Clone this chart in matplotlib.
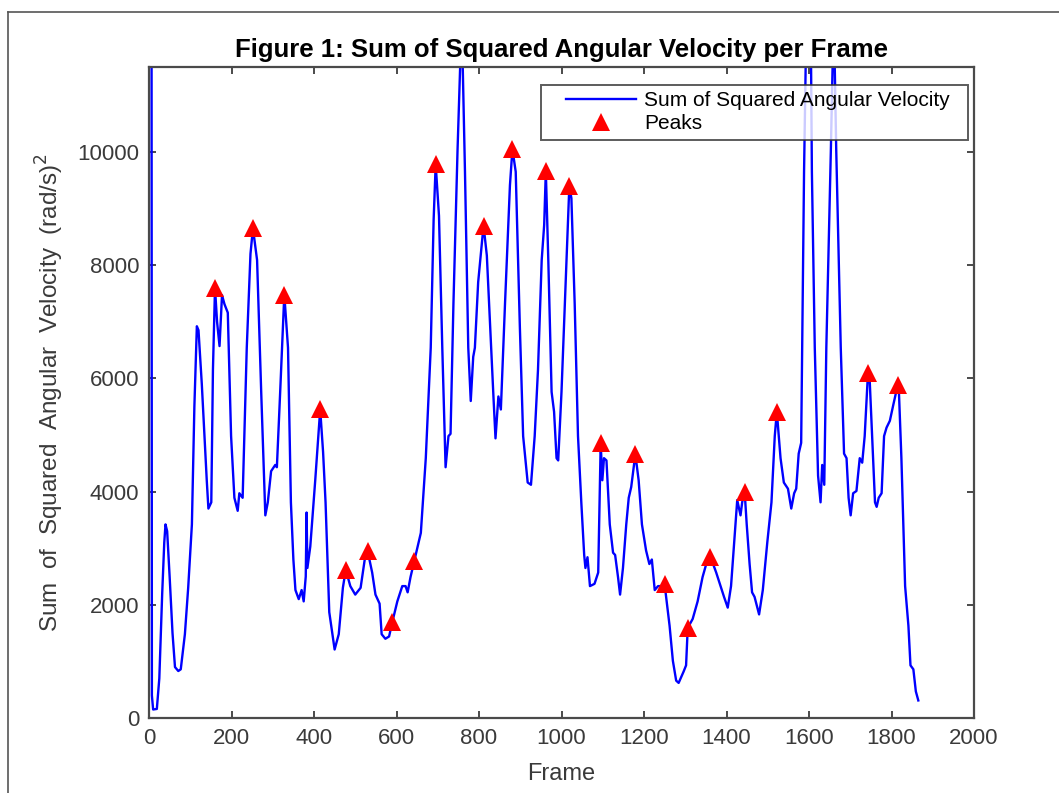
import matplotlib
matplotlib.use("Agg")
import matplotlib.pyplot as plt
from matplotlib.lines import Line2D
from matplotlib.legend_handler import HandlerLine2D

# sum of squared angular velocity (frame, value)
frames = [0, 3, 7, 10, 19, 25, 32, 37, 40, 44, 50, 57, 63, 71, 77, 87, 95, 104, 110, 116,
          120, 128, 140, 144, 151, 155, 160, 165, 171, 177, 183, 191, 199, 207, 215, 219,
          227, 237, 246, 252, 262, 272, 282, 288, 296, 306, 310, 318, 328, 337, 344, 350,
          355, 363, 370, 375, 380, 382, 384, 391, 403, 415, 422, 428, 437, 450, 460, 470,
          477, 488, 500, 513, 524, 530, 541, 549, 559, 564, 573, 582, 590, 602, 614, 622,
          627, 634, 643, 659, 671, 683, 690, 695, 703, 711, 719, 726, 731, 738, 748, 756,
          760, 766, 774, 780, 786, 790, 798, 806, 811, 819, 827, 835, 840, 847, 853, 863,
          875, 881, 889, 899, 907, 918, 926, 935, 943, 952, 958, 962, 968, 976, 982, 988,
          992, 1000, 1008, 1019, 1024, 1032, 1040, 1048, 1055, 1058, 1063, 1069, 1080, 1089,
          1095, 1099, 1103, 1109, 1117, 1125, 1130, 1137, 1142, 1149, 1157, 1163, 1169, 1179,
          1187, 1195, 1205, 1213, 1219, 1226, 1234, 1246, 1250, 1262, 1270, 1278, 1284, 1296,
          1302, 1306, 1318, 1330, 1342, 1354, 1361, 1375, 1387, 1394, 1403, 1411, 1418, 1426,
          1434, 1438, 1444, 1449, 1456, 1462, 1468, 1479, 1488, 1499, 1509, 1517, 1522, 1531,
          1539, 1549, 1557, 1564, 1569, 1575, 1581, 1588, 1594, 1600, 1604, 1607, 1614, 1622,
          1628, 1632, 1637, 1642, 1653, 1660, 1666, 1677, 1685, 1691, 1696, 1701, 1707, 1715,
          1723, 1729, 1735, 1743, 1747, 1753, 1760, 1764, 1769, 1776, 1782, 1788, 1796, 1804,
          1815, 1818, 1824, 1833, 1841, 1846, 1853, 1859, 1865]
values = [60000, 60000, 400, 150, 160, 700, 2200, 3100, 3420, 3300, 2500, 1500, 900, 830, 860,
          1480, 2300, 3420, 5500, 6920, 6850, 5900, 4200, 3700, 3810, 6150, 7600, 7000, 6570,
          7470, 7310, 7160, 4980, 3890, 3660, 3970, 3890, 6540, 8200, 8650, 8090, 5760, 3580,
          3810, 4360, 4470, 4430, 5760, 7480, 6540, 3810, 2800, 2260, 2100, 2260, 2060, 2500,
          3630, 2650, 3030, 4200, 5450, 4700, 3810, 1870, 1210, 1480, 2300, 2620, 2330, 2180,
          2300, 2850, 2950, 2570, 2180, 2020, 1480, 1400, 1440, 1700, 2060, 2330, 2330, 2220,
          2490, 2770, 3270, 4590, 6540, 8800, 9780, 8870, 6540, 4430, 4980, 5020, 7310, 10040,
          11900, 11700, 9650, 6540, 5600, 6380, 6540, 7700, 8320, 8700, 8170, 6920, 5680, 4940,
          5680, 5450, 7310, 9410, 10050, 9650, 6920, 4980, 4160, 4120, 4980, 6150, 8090, 8710,
          9660, 8090, 5760, 5410, 4590, 4550, 5760, 7310, 9400, 9180, 7310, 4980, 3810, 2880,
          2650, 2840, 2330, 2370, 2570, 4850, 4200, 4590, 4550, 3420, 2920, 2880, 2490, 2180,
          2650, 3420, 3890, 4080, 4660, 4200, 3420, 2960, 2720, 2800, 2260, 2330, 2330, 2360,
          1630, 1010, 660, 620, 820, 930, 1590, 1750, 2060, 2490, 2800, 2850, 2570, 2300, 2140,
          1950, 2330, 3030, 3850, 3580, 3810, 4000, 3420, 2720, 2220, 2140, 1830, 2260, 3110,
          3810, 4980, 5410, 4590, 4160, 4050, 3700, 3970, 4050, 4670, 4860, 9650, 12500, 13500,
          12500, 9650, 6540, 4280, 3810, 4470, 4120, 6540, 10040, 12500, 10040, 6540, 4670,
          4590, 3890, 3580, 3970, 4010, 4590, 4510, 4980, 6100, 5990, 4980, 3810, 3730, 3890,
          3970, 4980, 5130, 5250, 5520, 5880, 5760, 4590, 2330, 1630, 930, 860, 470, 310]

# detected peaks
peak_frames = [160, 252, 328, 415, 477, 530, 590, 643, 695, 811, 881,
               962, 1019, 1095, 1179, 1250, 1306, 1361, 1444, 1522, 1743, 1815]
peak_values = [7600, 8650, 7480, 5450, 2620, 2950, 1700, 2770, 9780, 8700, 10050,
               9660, 9400, 4850, 4660, 2360, 1590, 2850, 4000, 5410, 6100, 5880]

x_ticks = [0, 200, 400, 600, 800, 1000, 1200, 1400, 1600, 1800, 2000]
y_ticks = [0, 2000, 4000, 6000, 8000, 10000]

plt.rcParams['font.family'] = ['Liberation Sans', 'DejaVu Sans']

fig = plt.figure(figsize=(10.59, 7.93), dpi=100)
ax = fig.add_axes([149 / 1059, 1 - 718 / 793, 825 / 1059, 651 / 793])

ax.plot(frames, values, color=(0, 0, 1), lw=1.7, label='Sum of Squared Angular Velocity  ')
ax.plot(peak_frames, peak_values, ls='none', marker='^', color='red', ms=13.5,
        markeredgewidth=0, label='Peaks')

ax.set_xlim(0, 2000)
ax.set_ylim(0, 11500)
ax.set_xticks(x_ticks)
ax.set_yticks(y_ticks)

axis_col = '#4a4a4a'
for sp in ax.spines.values():
    sp.set_color(axis_col)
    sp.set_linewidth(1.6)
ax.tick_params(direction='in', length=5, width=1.4, color=axis_col, labelcolor='#3a3a3a',
               labelsize=16, top=True, right=True, pad=7)

ax.set_title('Figure 1: Sum of Squared Angular Velocity per Frame', fontsize=18.5,
             fontweight='bold', color='black', pad=7)
ax.set_xlabel('Frame', fontsize=17, color='#3a3a3a', labelpad=10)
ax.set_ylabel(r'Sum  of  Squared  Angular  Velocity  (rad/s)$^2$', fontsize=17.5,
              color='#3a3a3a', labelpad=8)

fs = 15
leg = ax.legend(loc='upper right', bbox_to_anchor=(0.9927, 0.9723), borderaxespad=0,
                fontsize=fs, frameon=True, fancybox=False, handlelength=4.27,
                handletextpad=0.4, borderpad=0.3, labelspacing=0.2,
                handler_map={Line2D: HandlerLine2D(xpad=0.9)})
leg.get_frame().set_edgecolor('#333333')
leg.get_frame().set_linewidth(1.4)

# screenshot frame lines (top and left)
fig.add_artist(Line2D([8 / 1059, 1.0], [1 - 12 / 793, 1 - 12 / 793], color='#555555', lw=1.2))
fig.add_artist(Line2D([8 / 1059, 8 / 1059], [0, 1 - 12 / 793], color='#555555', lw=1.2))

fig.savefig('out.png', dpi=100)
